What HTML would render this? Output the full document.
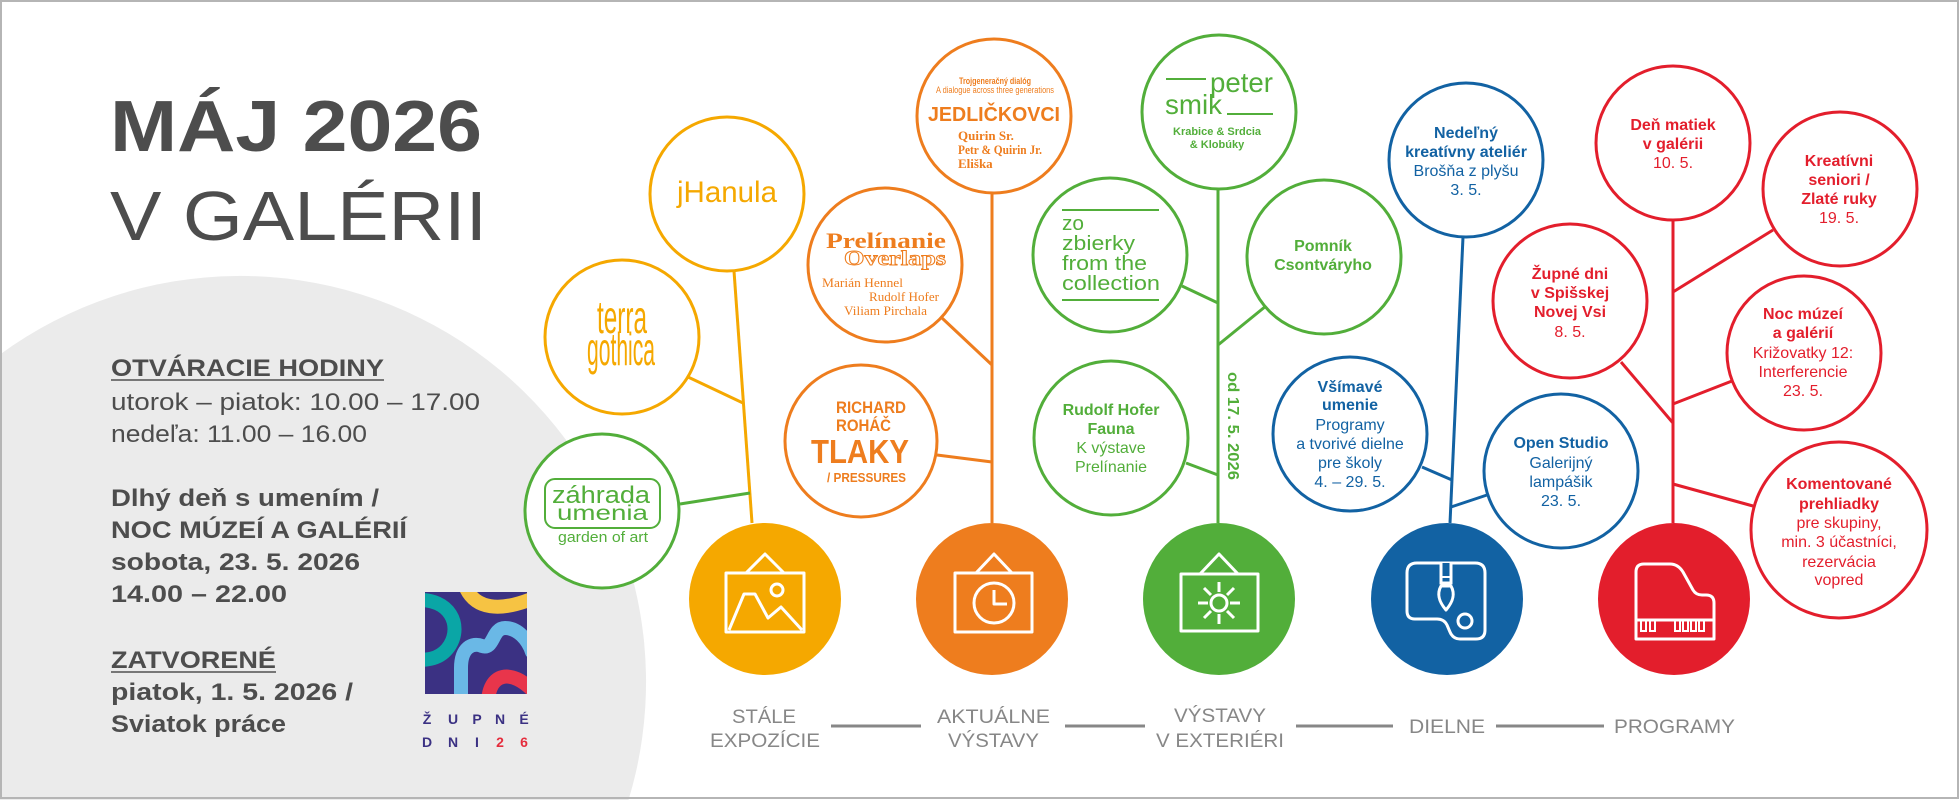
<!DOCTYPE html>
<html><head><meta charset="utf-8"><style>
html,body{margin:0;padding:0;background:#fff;width:1960px;height:800px;overflow:hidden;}
svg{display:block;}
text{font-family:"Liberation Sans",sans-serif;}
.serif{font-family:"Liberation Serif",serif;}
.oc{fill:#fff;stroke-width:3;}
.y{stroke:#f5a800;} .o{stroke:#ee7d1e;} .g{stroke:#52ae3a;} .b{stroke:#1262a3;} .r{stroke:#e31e2c;}
.ln{stroke-width:3;fill:none;}
.ic{fill:none;stroke:#fff;stroke-width:3;stroke-linejoin:round;}
.lab{fill:#878787;font-size:19px;}
.tg{fill:#52ae3a;} .tb{fill:#1262a3;} .tr{fill:#e31e2c;} .to{fill:#ee7d1e;} .ty{fill:#f5a800;}
.nb{font-size:16px;font-weight:bold;}
.nr{font-size:16px;}
</style></head><body>
<svg width="1960" height="800" viewBox="0 0 1960 800" xmlns="http://www.w3.org/2000/svg">
<defs><clipPath id="lc"><rect x="425" y="592" width="102" height="102"/></clipPath></defs>
<rect x="0" y="0" width="1960" height="800" fill="#fff"/>
<path d="M0,354.5 A406,406 0 0 1 628.5,800 L0,800 Z" fill="#ebebeb"/>

<!-- Title -->
<text x="110" y="151" font-size="72" font-weight="bold" fill="#4d4d4d" textLength="372" lengthAdjust="spacingAndGlyphs">MÁJ 2026</text>
<text x="110" y="240" font-size="70" fill="#4d4d4d" textLength="377" lengthAdjust="spacingAndGlyphs">V GALÉRII</text>

<!-- Left info -->
<g fill="#4d4d4d" font-size="24">
<text x="111" y="376" font-weight="bold" textLength="273" lengthAdjust="spacingAndGlyphs">OTVÁRACIE HODINY</text>
<line x1="111" y1="380" x2="384" y2="380" stroke="#777" stroke-width="2"/>
<text x="111" y="410" textLength="369" lengthAdjust="spacingAndGlyphs">utorok – piatok: 10.00 – 17.00</text>
<text x="111" y="442" textLength="256" lengthAdjust="spacingAndGlyphs">nedeľa: 11.00 – 16.00</text>
<text x="111" y="506" font-weight="bold" textLength="268" lengthAdjust="spacingAndGlyphs">Dlhý deň s umením /</text>
<text x="111" y="538" font-weight="bold" textLength="296" lengthAdjust="spacingAndGlyphs">NOC MÚZEÍ A GALÉRIÍ</text>
<text x="111" y="570" font-weight="bold" textLength="249" lengthAdjust="spacingAndGlyphs">sobota, 23. 5. 2026</text>
<text x="111" y="602" font-weight="bold" textLength="176" lengthAdjust="spacingAndGlyphs">14.00 – 22.00</text>
<text x="111" y="668" font-weight="bold" textLength="165" lengthAdjust="spacingAndGlyphs">ZATVORENÉ</text>
<line x1="111" y1="672" x2="276" y2="672" stroke="#777" stroke-width="2"/>
<text x="111" y="700" font-weight="bold" textLength="242" lengthAdjust="spacingAndGlyphs">piatok, 1. 5. 2026 /</text>
<text x="111" y="732" font-weight="bold" textLength="175" lengthAdjust="spacingAndGlyphs">Sviatok práce</text>
</g>

<!-- Župné dni logo -->
<rect x="425" y="592" width="102" height="102" fill="#3b3183"/>
<g clip-path="url(#lc)" fill="none" stroke-linecap="round" stroke-width="14">
<path d="M416,600 C450,598 462,625 450,645 C442,658 430,660 418,660" stroke="#0aa6a6"/>
<path d="M465,586 C475,610 500,612 534,598" stroke="#f6c343"/>
<path d="M461,704 V668 C461,648 472,642 482,646 C494,650 492,628 505,628 C518,628 528,640 532,652" stroke="#6ab8e6"/>
<path d="M488,704 C488,672 512,668 534,692" stroke="#e8354b"/>
</g>
<g font-size="14" font-weight="bold" fill="#3b3183" text-anchor="middle">
<text x="427" y="724">Ž</text><text x="453" y="724">U</text><text x="477" y="724">P</text><text x="500" y="724">N</text><text x="524" y="724">É</text>
<text x="427" y="747">D</text><text x="453" y="747">N</text><text x="477" y="747">I</text><text x="500" y="747" fill="#e52d3d">2</text><text x="524" y="747" fill="#e52d3d">6</text>
</g>

<!-- ===== YELLOW branch ===== -->
<line class="ln y" x1="734" y1="271" x2="752" y2="523"/>
<line class="ln y" x1="688" y1="377" x2="743" y2="403"/>
<line class="ln g" x1="680" y1="504" x2="750" y2="493"/>
<circle class="oc y" cx="727" cy="194" r="77"/>
<text x="677" y="202" font-size="30" class="ty" textLength="100" lengthAdjust="spacingAndGlyphs">jHanula</text>
<circle class="oc y" cx="622" cy="337" r="77"/>
<text x="597" y="333" font-size="46" class="ty" textLength="50" lengthAdjust="spacingAndGlyphs">terra</text>
<text x="587" y="365" font-size="46" class="ty" textLength="68" lengthAdjust="spacingAndGlyphs">gothica</text>
<circle class="oc g" cx="602" cy="511" r="77"/>
<rect x="545" y="479" width="115" height="49" rx="10" fill="none" stroke="#52ae3a" stroke-width="2"/>
<text x="552" y="503" font-size="24" class="tg" textLength="98" lengthAdjust="spacingAndGlyphs">záhrada</text>
<text x="557" y="520" font-size="21" class="tg" textLength="91" lengthAdjust="spacingAndGlyphs">umenia</text>
<text x="558" y="542" font-size="15" class="tg" textLength="90" lengthAdjust="spacingAndGlyphs">garden of art</text>
<circle cx="765" cy="599" r="76" fill="#f5a800"/>
<polyline class="ic" points="746,573 765,554 784,573"/>
<rect class="ic" x="726" y="573" width="78" height="59"/>
<polyline class="ic" points="729,630 744,594 755,594 768,618 781,607 802,630"/>
<circle class="ic" cx="777" cy="590" r="6"/>

<!-- ===== ORANGE branch ===== -->
<line class="ln o" x1="992" y1="193" x2="992" y2="523"/>
<line class="ln o" x1="942" y1="318" x2="992" y2="365"/>
<line class="ln o" x1="937" y1="455" x2="992" y2="462"/>
<circle class="oc o" cx="994" cy="116" r="77"/>
<text x="995" y="84" font-size="9" font-weight="bold" class="to" text-anchor="middle" textLength="72" lengthAdjust="spacingAndGlyphs">Trojgeneračný dialóg</text>
<text x="936" y="93" font-size="9" class="to" textLength="118" lengthAdjust="spacingAndGlyphs">A dialogue across three generations</text>
<text x="928" y="121" font-size="20" font-weight="bold" class="to" textLength="132" lengthAdjust="spacingAndGlyphs">JEDLIČKOVCI</text>
<text x="958" y="140" font-size="13" font-weight="bold" class="to serif">Quirin Sr.</text>
<text x="958" y="154" font-size="13" font-weight="bold" class="to serif" textLength="84" lengthAdjust="spacingAndGlyphs">Petr &amp; Quirin Jr.</text>
<text x="958" y="168" font-size="13" font-weight="bold" class="to serif">Eliška</text>
<circle class="oc o" cx="885" cy="265" r="77"/>
<text x="826" y="248" font-size="22" font-weight="bold" class="to serif" textLength="120" lengthAdjust="spacingAndGlyphs">Prelínanie</text>
<text x="844" y="265" font-size="21" font-weight="bold" class="serif" fill="#fff" stroke="#ee7d1e" stroke-width="0.9" textLength="102" lengthAdjust="spacingAndGlyphs">Overlaps</text>
<text x="822" y="287" font-size="13" class="to serif" textLength="81" lengthAdjust="spacingAndGlyphs">Marián Hennel</text>
<text x="869" y="301" font-size="13" class="to serif" textLength="70" lengthAdjust="spacingAndGlyphs">Rudolf Hofer</text>
<text x="844" y="315" font-size="13" class="to serif" textLength="83" lengthAdjust="spacingAndGlyphs">Viliam Pirchala</text>
<circle class="oc o" cx="861" cy="441" r="76"/>
<text x="836" y="413" font-size="17" font-weight="bold" class="to" textLength="70" lengthAdjust="spacingAndGlyphs">RICHARD</text>
<text x="836" y="431" font-size="17" font-weight="bold" class="to" textLength="55" lengthAdjust="spacingAndGlyphs">ROHÁČ</text>
<text x="811" y="463" font-size="33" font-weight="bold" class="to" textLength="98" lengthAdjust="spacingAndGlyphs">TLAKY</text>
<text x="827" y="482" font-size="13" font-weight="bold" class="to" textLength="79" lengthAdjust="spacingAndGlyphs">/ PRESSURES</text>
<circle cx="992" cy="599" r="76" fill="#ee7d1e"/>
<polyline class="ic" points="976,573 994,554 1012,573"/>
<rect class="ic" x="955" y="573" width="77" height="59"/>
<circle class="ic" cx="994" cy="603" r="20"/>
<polyline class="ic" points="994,590 994,604 1007,604"/>

<!-- ===== GREEN branch ===== -->
<line class="ln g" x1="1218" y1="190" x2="1218" y2="523"/>
<line class="ln g" x1="1182" y1="286" x2="1218" y2="303"/>
<line class="ln g" x1="1266" y1="306" x2="1218" y2="345"/>
<line class="ln g" x1="1186" y1="463" x2="1218" y2="475"/>
<circle class="oc g" cx="1219" cy="112" r="77"/>
<line x1="1166" y1="79" x2="1206" y2="79" stroke="#52ae3a" stroke-width="2"/>
<text x="1210" y="92" font-size="28" class="tg" textLength="63" lengthAdjust="spacingAndGlyphs">peter</text>
<text x="1165" y="114" font-size="28" class="tg" textLength="57" lengthAdjust="spacingAndGlyphs">smik</text>
<line x1="1227" y1="114" x2="1273" y2="114" stroke="#52ae3a" stroke-width="2"/>
<text x="1217" y="135" font-size="11" font-weight="bold" class="tg" text-anchor="middle" textLength="88" lengthAdjust="spacingAndGlyphs">Krabice &amp; Srdcia</text>
<text x="1217" y="148" font-size="11" font-weight="bold" class="tg" text-anchor="middle">&amp; Klobúky</text>
<circle class="oc g" cx="1110" cy="255" r="77"/>
<line x1="1062" y1="210" x2="1159" y2="210" stroke="#52ae3a" stroke-width="2"/>
<text x="1062" y="230" font-size="20" class="tg" textLength="22" lengthAdjust="spacingAndGlyphs">zo</text>
<text x="1062" y="250" font-size="20" class="tg" textLength="73" lengthAdjust="spacingAndGlyphs">zbierky</text>
<text x="1062" y="270" font-size="20" class="tg" textLength="85" lengthAdjust="spacingAndGlyphs">from the</text>
<text x="1062" y="290" font-size="20" class="tg" textLength="98" lengthAdjust="spacingAndGlyphs">collection</text>
<line x1="1062" y1="300" x2="1159" y2="300" stroke="#52ae3a" stroke-width="2"/>
<circle class="oc g" cx="1324" cy="257" r="77"/>
<text x="1323" y="251" class="tg nb" text-anchor="middle">Pomník</text>
<text x="1323" y="270" class="tg nb" text-anchor="middle">Csontváryho</text>
<circle class="oc g" cx="1111" cy="438" r="77"/>
<text x="1111" y="415" class="tg nb" text-anchor="middle">Rudolf Hofer</text>
<text x="1111" y="434" class="tg nb" text-anchor="middle">Fauna</text>
<text x="1111" y="453" class="tg nr" text-anchor="middle">K výstave</text>
<text x="1111" y="472" class="tg nr" text-anchor="middle">Prelínanie</text>
<text transform="translate(1228,372) rotate(90)" font-size="16" font-weight="bold" class="tg" textLength="108" lengthAdjust="spacingAndGlyphs">od 17. 5. 2026</text>
<circle cx="1219" cy="599" r="76" fill="#52ae3a"/>
<polyline class="ic" points="1200,574 1219,554 1238,574"/>
<rect class="ic" x="1181" y="574" width="77" height="57"/>
<circle class="ic" cx="1219" cy="603" r="8"/>
<g stroke="#fff" stroke-width="3">
<line x1="1219" y1="592" x2="1219" y2="582"/><line x1="1219" y1="614" x2="1219" y2="624"/>
<line x1="1208" y1="603" x2="1198" y2="603"/><line x1="1230" y1="603" x2="1240" y2="603"/>
<line x1="1211" y1="595" x2="1204" y2="588"/><line x1="1227" y1="595" x2="1234" y2="588"/>
<line x1="1211" y1="611" x2="1204" y2="618"/><line x1="1227" y1="611" x2="1234" y2="618"/>
</g>

<!-- ===== BLUE branch ===== -->
<line class="ln b" x1="1463" y1="237" x2="1450" y2="523"/>
<line class="ln b" x1="1422" y1="467" x2="1452" y2="480"/>
<line class="ln b" x1="1487" y1="495" x2="1451" y2="507"/>
<circle class="oc b" cx="1466" cy="160" r="77"/>
<text x="1466" y="138" class="tb nb" text-anchor="middle">Nedeľný</text>
<text x="1466" y="157" class="tb nb" text-anchor="middle">kreatívny ateliér</text>
<text x="1466" y="176" class="tb nr" text-anchor="middle">Brošňa z plyšu</text>
<text x="1466" y="195" class="tb nr" text-anchor="middle">3. 5.</text>
<circle class="oc b" cx="1350" cy="434" r="77"/>
<text x="1350" y="392" class="tb nb" text-anchor="middle">Všímavé</text>
<text x="1350" y="410" class="tb nb" text-anchor="middle">umenie</text>
<text x="1350" y="430" class="tb nr" text-anchor="middle">Programy</text>
<text x="1350" y="449" class="tb nr" text-anchor="middle">a tvorivé dielne</text>
<text x="1350" y="468" class="tb nr" text-anchor="middle">pre školy</text>
<text x="1350" y="487" class="tb nr" text-anchor="middle">4. – 29. 5.</text>
<circle class="oc b" cx="1561" cy="471" r="77"/>
<text x="1561" y="448" class="tb nb" text-anchor="middle">Open Studio</text>
<text x="1561" y="468" class="tb nr" text-anchor="middle">Galerijný</text>
<text x="1561" y="487" class="tb nr" text-anchor="middle">lampášik</text>
<text x="1561" y="506" class="tb nr" text-anchor="middle">23. 5.</text>
<circle cx="1447" cy="599" r="76" fill="#1262a3"/>
<path class="ic" d="M1407,573 Q1407,563 1417,563 H1475 Q1485,563 1485,573 V630 Q1485,639 1476,639 H1460 Q1453,639 1450,632 L1447,625 Q1444,619 1437,619 H1415 Q1407,619 1407,611 Z"/>
<circle class="ic" cx="1465" cy="621" r="7"/>
<path d="M1441,563 V583 H1451 V563" fill="#1262a3" stroke="#fff" stroke-width="3"/>
<line x1="1441" y1="577" x2="1451" y2="577" stroke="#fff" stroke-width="2"/>
<path class="ic" d="M1441,586 C1436,595 1440,603 1446,610 C1452,603 1456,595 1451,586 Z"/>

<!-- ===== RED branch ===== -->
<line class="ln r" x1="1673" y1="220" x2="1673" y2="523"/>
<line class="ln r" x1="1773" y1="230" x2="1673" y2="292"/>
<line class="ln r" x1="1621" y1="362" x2="1673" y2="423"/>
<line class="ln r" x1="1732" y1="381" x2="1673" y2="404"/>
<line class="ln r" x1="1753" y1="506" x2="1673" y2="484"/>
<circle class="oc r" cx="1673" cy="143" r="77"/>
<text x="1673" y="130" class="tr nb" text-anchor="middle">Deň matiek</text>
<text x="1673" y="149" class="tr nb" text-anchor="middle">v galérii</text>
<text x="1673" y="168" class="tr nr" text-anchor="middle">10. 5.</text>
<circle class="oc r" cx="1840" cy="189" r="77"/>
<text x="1839" y="166" class="tr nb" text-anchor="middle">Kreatívni</text>
<text x="1839" y="185" class="tr nb" text-anchor="middle">seniori /</text>
<text x="1839" y="204" class="tr nb" text-anchor="middle">Zlaté ruky</text>
<text x="1839" y="223" class="tr nr" text-anchor="middle">19. 5.</text>
<circle class="oc r" cx="1570" cy="301" r="77"/>
<text x="1570" y="279" class="tr nb" text-anchor="middle">Župné dni</text>
<text x="1570" y="298" class="tr nb" text-anchor="middle">v Spišskej</text>
<text x="1570" y="317" class="tr nb" text-anchor="middle">Novej Vsi</text>
<text x="1570" y="337" class="tr nr" text-anchor="middle">8. 5.</text>
<circle class="oc r" cx="1804" cy="353" r="77"/>
<text x="1803" y="319" class="tr nb" text-anchor="middle">Noc múzeí</text>
<text x="1803" y="338" class="tr nb" text-anchor="middle">a galérií</text>
<text x="1803" y="358" class="tr nr" text-anchor="middle">Križovatky 12:</text>
<text x="1803" y="377" class="tr nr" text-anchor="middle">Interferencie</text>
<text x="1803" y="396" class="tr nr" text-anchor="middle">23. 5.</text>
<circle class="oc r" cx="1839" cy="530" r="88"/>
<text x="1839" y="489" class="tr nb" text-anchor="middle">Komentované</text>
<text x="1839" y="509" class="tr nb" text-anchor="middle">prehliadky</text>
<text x="1839" y="528" class="tr nr" text-anchor="middle">pre skupiny,</text>
<text x="1839" y="547" class="tr nr" text-anchor="middle">min. 3 účastníci,</text>
<text x="1839" y="567" class="tr nr" text-anchor="middle">rezervácia</text>
<text x="1839" y="585" class="tr nr" text-anchor="middle">vopred</text>
<circle cx="1674" cy="599" r="76" fill="#e31e2c"/>
<path class="ic" d="M1636,639 V572 Q1636,564 1644,564 H1670 Q1678,564 1683,572 L1693,590 Q1696,595 1702,595 H1706 Q1714,595 1714,603 V639 Z"/>
<line x1="1636" y1="620" x2="1714" y2="620" stroke="#fff" stroke-width="3"/>
<path fill="none" stroke="#fff" stroke-width="2" d="M1641,620 V631 H1646 V620 M1650,620 V631 H1655 V620 M1675,620 V631 H1680 V620 M1683,620 V631 H1688 V620 M1691,620 V631 H1696 V620 M1699,620 V631 H1704 V620"/>

<!-- Bottom labels -->
<text class="lab" x="732" y="723" textLength="64" lengthAdjust="spacingAndGlyphs">STÁLE</text>
<text class="lab" x="710" y="747" textLength="110" lengthAdjust="spacingAndGlyphs">EXPOZÍCIE</text>
<text class="lab" x="937" y="723" textLength="113" lengthAdjust="spacingAndGlyphs">AKTUÁLNE</text>
<text class="lab" x="948" y="747" textLength="91" lengthAdjust="spacingAndGlyphs">VÝSTAVY</text>
<text class="lab" x="1174" y="722" textLength="92" lengthAdjust="spacingAndGlyphs">VÝSTAVY</text>
<text class="lab" x="1156" y="747" textLength="128" lengthAdjust="spacingAndGlyphs">V EXTERIÉRI</text>
<text class="lab" x="1409" y="733" textLength="76" lengthAdjust="spacingAndGlyphs">DIELNE</text>
<text class="lab" x="1614" y="733" textLength="121" lengthAdjust="spacingAndGlyphs">PROGRAMY</text>
<g stroke="#878787" stroke-width="3">
<line x1="831" y1="726" x2="921" y2="726"/>
<line x1="1065" y1="726" x2="1145" y2="726"/>
<line x1="1296" y1="726" x2="1393" y2="726"/>
<line x1="1496" y1="726" x2="1604" y2="726"/>
</g>

<!-- border -->
<rect x="1" y="1" width="1957" height="797" fill="none" stroke="#b5b5b5" stroke-width="2"/>
</svg>
</body></html>
